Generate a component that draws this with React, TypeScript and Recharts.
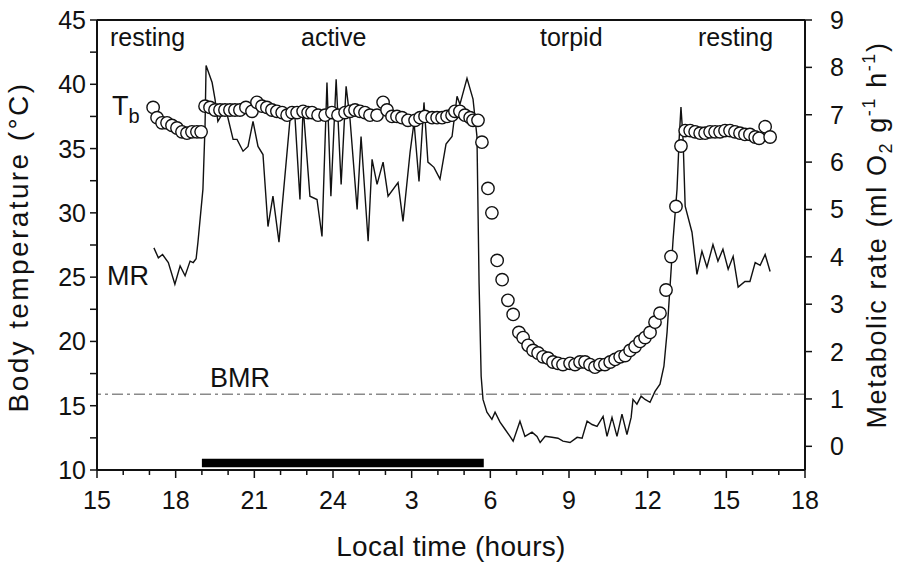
import React from "react"
import {
  ComposedChart,
  Line,
  XAxis,
  YAxis,
  ReferenceLine,
  ReferenceArea,
} from "recharts"

// local time in hours, continuing past midnight (25 = 1:00, 39 = 15:00)
const hourTicks = [
  15, 16, 17, 18, 19, 20, 21, 22, 23, 24, 25, 26, 27, 28, 29, 30, 31, 32, 33, 34,
  35, 36, 37, 38, 39, 40, 41, 42,
]
const tbTicks = [10, 12.5, 15, 17.5, 20, 22.5, 25, 27.5, 30, 32.5, 35, 37.5, 40, 42.5, 45]
const mrTicks = [0, 1, 2, 3, 4, 5, 6, 7, 8, 9]

// body temperature (°C), open circles
const tbHours = [
  17.14, 17.29, 17.48, 17.67, 17.86, 18.05, 18.24, 18.43, 18.62, 18.81, 18.97,
  19.12, 19.31, 19.5, 19.69, 19.88, 20.07, 20.26, 20.45, 20.68, 20.91, 21.1,
  21.29, 21.48, 21.67, 21.86, 22.06, 22.25, 22.44, 22.63, 22.86, 23.05, 23.2,
  23.43, 23.7, 23.96, 24.19, 24.46, 24.65, 24.84, 25.03, 25.22, 25.41, 25.68,
  25.91, 26.06, 26.25, 26.44, 26.63, 26.86, 27.13, 27.32, 27.51, 27.78, 27.97,
  28.16, 28.35, 28.54, 28.65, 28.84, 29.03, 29.23, 29.34, 29.53, 29.68, 29.91,
  30.06, 30.26, 30.45, 30.67, 30.87, 31.09, 31.25, 31.44, 31.63, 31.82, 32.01,
  32.2, 32.39, 32.58, 32.77, 33.04, 33.23, 33.42, 33.61, 33.8, 33.99, 34.18,
  34.37, 34.57, 34.76, 34.95, 35.14, 35.33, 35.52, 35.71, 35.9, 36.09, 36.28,
  36.47, 36.7, 36.89, 37.08, 37.27, 37.43, 37.62, 37.81, 38.0, 38.19, 38.38,
  38.57, 38.76, 38.95, 39.14, 39.33, 39.52, 39.71, 39.9, 40.1, 40.25, 40.48, 40.67,
]
const tbValues = [
  38.2, 37.4, 37.0, 37.0, 36.8, 36.6, 36.3, 36.2, 36.3, 36.3, 36.3,
  38.3, 38.2, 38.0, 38.0, 38.0, 38.0, 38.0, 38.0, 38.2, 37.9, 38.6,
  38.3, 38.2, 38.0, 37.9, 37.8, 37.6, 37.8, 37.8, 37.9, 37.8, 37.8,
  37.6, 37.6, 37.8, 37.6, 37.8, 37.9, 38.0, 37.9, 37.8, 37.6, 37.6,
  38.6, 38.0, 37.5, 37.5, 37.4, 37.2, 37.2, 37.4, 37.5, 37.4, 37.4,
  37.4, 37.5, 37.6, 37.9, 37.9, 37.6, 37.4, 37.2, 37.2, 35.5, 31.9,
  30.0, 26.3, 24.8, 23.2, 22.1, 20.7, 20.3, 19.7, 19.3, 19.1, 18.8,
  18.7, 18.4, 18.3, 18.2, 18.3, 18.2, 18.4, 18.4, 18.2, 18.0, 18.2,
  18.2, 18.4, 18.6, 18.8, 18.9, 19.3, 19.6, 20.0, 20.3, 20.7, 21.5,
  22.2, 24.0, 26.6, 30.5, 35.2, 36.4, 36.4, 36.3, 36.2, 36.2, 36.3,
  36.3, 36.3, 36.4, 36.4, 36.3, 36.2, 36.1, 36.1, 35.9, 35.8, 36.7, 35.9,
]

// metabolic rate (ml O2 g-1 h-1), line
const mrHours = [
  17.17, 17.34, 17.5, 17.72, 17.97, 18.17, 18.36, 18.55, 18.67, 18.78, 18.85,
  19.04, 19.12, 19.16, 19.39, 19.5, 19.61, 19.77, 19.96, 20.19, 20.34, 20.57,
  20.76, 20.95, 21.14, 21.33, 21.52, 21.71, 21.94, 22.36, 22.55, 22.74, 22.86,
  23.12, 23.39, 23.58, 23.77, 23.92, 24.12, 24.31, 24.5, 24.65, 24.92, 25.07,
  25.34, 25.49, 25.68, 25.91, 26.1, 26.48, 26.67, 26.94, 27.09, 27.28, 27.47,
  27.62, 27.85, 28.08, 28.31, 28.54, 28.73, 28.84, 29.11, 29.34, 29.49, 29.57,
  29.65, 29.72, 29.87, 30.06, 30.18, 30.37, 30.56, 30.75, 30.87, 31.13, 31.32,
  31.59, 31.78, 31.9, 32.09, 32.35, 32.58, 32.77, 33.04, 33.31, 33.5, 33.69,
  33.88, 34.07, 34.3, 34.45, 34.64, 34.83, 35.02, 35.21, 35.37, 35.44, 35.59,
  35.75, 35.9, 36.09, 36.28, 36.47, 36.62, 36.74, 36.97, 37.12, 37.2, 37.27,
  37.35, 37.43, 37.69, 37.88, 38.07, 38.26, 38.49, 38.68, 38.87, 39.07, 39.26,
  39.45, 39.71, 39.9, 40.1, 40.29, 40.48, 40.67,
]
const mrValues = [
  4.19, 3.98, 4.05, 3.88, 3.42, 3.81, 3.6, 3.91, 3.88, 3.96, 4.31,
  5.43, 6.76, 8.04, 7.68, 7.33, 6.86, 7.01, 7.01, 6.48, 6.48, 6.23,
  6.33, 6.86, 6.33, 6.16, 4.64, 5.28, 4.31, 6.9, 6.95, 5.21, 7.18,
  5.28, 5.21, 4.43, 7.68, 5.28, 7.75, 5.53, 7.6, 6.9, 5.0, 6.54,
  4.33, 6.06, 5.53, 6.0, 5.28, 5.57, 4.75, 6.21, 6.84, 5.59, 7.26,
  6.0, 5.89, 5.64, 6.38, 6.54, 7.39, 7.22, 7.77, 7.33, 6.54, 3.46,
  1.48, 0.99, 0.72, 0.57, 0.72, 0.51, 0.36, 0.21, 0.11, 0.53, 0.21,
  0.3, 0.21, 0.08, 0.21, 0.19, 0.17, 0.11, 0.08, 0.19, 0.17, 0.53,
  0.46, 0.42, 0.63, 0.21, 0.61, 0.21, 0.68, 0.25, 0.61, 0.99, 0.89,
  1.06, 0.99, 0.93, 1.16, 1.31, 1.69, 2.41, 4.37, 5.43, 6.48, 7.16,
  6.48, 5.07, 4.52, 3.63, 4.12, 3.78, 4.26, 3.91, 4.16, 3.74, 4.01,
  3.36, 3.48, 3.48, 3.88, 3.82, 4.05, 3.69,
]

const bmr = 1.1
// dark period bar (19:00 - 5:45)
const darkStart = 19.0
const darkEnd = 29.75

const tbData = tbHours.map((t, i) => ({ t, tb: tbValues[i] }))
const mrData = mrHours.map((t, i) => ({ t, mr: mrValues[i] }))

const FONT = "'Liberation Sans', Arial, sans-serif"
const INK = "#111"

const XTick = (props: any) => {
  const { x, y, payload } = props
  const v = payload.value
  const major = v % 3 === 0
  return (
    <g>
      <line x1={x} x2={x} y1={y} y2={y + (major ? 8 : 5)} stroke={INK} strokeWidth={1.5} />
      {major && (
        <text x={x} y={y + 39} textAnchor="middle" fontSize={25} fontFamily={FONT} fill={INK}>
          {v > 24 ? v - 24 : v}
        </text>
      )}
    </g>
  )
}

const TbTick = (props: any) => {
  const { x, y, payload } = props
  const v = payload.value
  return (
    <g>
      <line x1={x - 7} x2={x} y1={y} y2={y} stroke={INK} strokeWidth={1.5} />
      {v % 5 === 0 && (
        <text x={x - 11} y={y + 9} textAnchor="end" fontSize={25} fontFamily={FONT} fill={INK}>
          {v}
        </text>
      )}
    </g>
  )
}

const MrTick = (props: any) => {
  const { x, y, payload } = props
  return (
    <g>
      <line x1={x} x2={x + 7} y1={y} y2={y} stroke={INK} strokeWidth={1.5} />
      <text x={x + 25} y={y + 9} textAnchor="start" fontSize={25} fontFamily={FONT} fill={INK}>
        {payload.value}
      </text>
    </g>
  )
}

export default function App() {
  return (
    <div style={{ position: "absolute", left: 0, top: 0, width: 898, height: 564, background: "#fff" }}>
      <ComposedChart width={898} height={564} margin={{ top: 20, right: 0, bottom: 0, left: 0 }}>
        <XAxis
          xAxisId="h"
          dataKey="t"
          type="number"
          domain={[15, 42]}
          ticks={hourTicks}
          interval={0}
          height={94}
          tickSize={0}
          tickMargin={0}
          tickLine={false}
          axisLine={{ stroke: INK, strokeWidth: 2 }}
          tick={<XTick />}
          allowDataOverflow
        />
        <YAxis
          yAxisId="tb"
          orientation="left"
          type="number"
          domain={[10, 45]}
          ticks={tbTicks}
          interval={0}
          width={97}
          tickSize={0}
          tickMargin={0}
          tickLine={false}
          axisLine={{ stroke: INK, strokeWidth: 2 }}
          tick={<TbTick />}
          allowDataOverflow
        />
        <YAxis
          yAxisId="mr"
          orientation="right"
          type="number"
          domain={[-0.5, 9]}
          ticks={mrTicks}
          interval={0}
          width={93}
          tickSize={0}
          tickMargin={0}
          tickLine={false}
          axisLine={{ stroke: INK, strokeWidth: 2 }}
          tick={<MrTick />}
          allowDataOverflow
        />
        <ReferenceLine xAxisId="h" yAxisId="tb" y={45} stroke={INK} strokeWidth={2} />
        <ReferenceLine
          xAxisId="h"
          yAxisId="mr"
          y={bmr}
          stroke="#8a8a8a"
          strokeWidth={1.5}
          strokeDasharray="11 4 3 4"
        />
        <ReferenceArea
          xAxisId="h"
          yAxisId="tb"
          x1={darkStart}
          x2={darkEnd}
          y1={10.22}
          y2={10.88}
          fill="#000"
          fillOpacity={1}
          stroke="none"
        />
        <Line
          xAxisId="h"
          yAxisId="tb"
          data={tbData}
          dataKey="tb"
          stroke="none"
          dot={{ r: 6.2, fill: "#fff", stroke: INK, strokeWidth: 1.4 }}
          activeDot={false}
          isAnimationActive={false}
        />
        <Line
          xAxisId="h"
          yAxisId="mr"
          data={mrData}
          dataKey="mr"
          type="linear"
          stroke={INK}
          strokeWidth={1.4}
          dot={false}
          activeDot={false}
          isAnimationActive={false}
        />
      </ComposedChart>
      <svg
        width={898}
        height={564}
        style={{ position: "absolute", left: 0, top: 0, pointerEvents: "none" }}
        fontFamily={FONT}
        fill={INK}
      >
        <text x={110} y={46} fontSize={25}>resting</text>
        <text x={301} y={46} fontSize={25}>active</text>
        <text x={540} y={46} fontSize={25}>torpid</text>
        <text x={698} y={46} fontSize={25}>resting</text>
        <text x={112} y={115} fontSize={27}>
          T<tspan fontSize={20} dy={8}>b</tspan>
        </text>
        <text x={107} y={285} fontSize={27}>MR</text>
        <text x={210} y={387} fontSize={27}>BMR</text>
        <text x={451} y={556} fontSize={28} textAnchor="middle" letterSpacing={0.3}>
          Local time (hours)
        </text>
        <text
          transform="translate(28,247) rotate(-90)"
          fontSize={28}
          textAnchor="middle"
          letterSpacing={2.4}
        >
          Body temperature (°C)
        </text>
        <text
          transform="translate(886,235) rotate(-90)"
          fontSize={27}
          textAnchor="middle"
          letterSpacing={1.6}
        >
          Metabolic rate (ml O<tspan fontSize={18} dy={6}>2</tspan>
          <tspan dy={-6}> g</tspan>
          <tspan fontSize={18} dy={-11}>-1</tspan>
          <tspan dy={11}> h</tspan>
          <tspan fontSize={18} dy={-11}>-1</tspan>
          <tspan dy={11}>)</tspan>
        </text>
      </svg>
    </div>
  )
}
